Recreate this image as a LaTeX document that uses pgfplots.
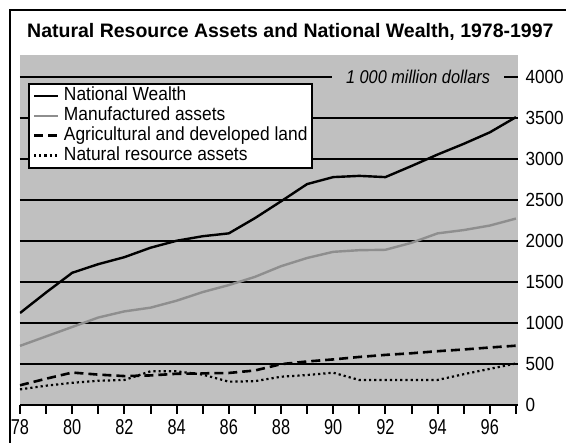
\documentclass[border=0pt]{standalone}
\usepackage{fontspec}
\setmainfont{Liberation Sans}
\newfontfamily\legfont{Liberation Sans}[FakeStretch=0.915]
\newfontfamily\yfont{Liberation Sans}[FakeStretch=0.9]
\newfontfamily\xfont{Liberation Sans}[FakeStretch=0.76]
\newfontfamily\unitfont{Liberation Sans}[FakeStretch=0.88]
\usepackage{pgfplots}
\pgfplotsset{compat=1.18}
\definecolor{bggray}{HTML}{C0C0C0}
\definecolor{mgray}{HTML}{8E8E8E}

\begin{document}
\begin{tikzpicture}[x=1pt,y=1pt]
\useasboundingbox (0,0) rectangle (566,443);
% outer frame (cut off at right and bottom)
\draw[line width=2.5pt] (10,-5) -- (10,433) -- (575,433);
\node[anchor=base west, inner sep=0pt, font=\bfseries\fontsize{19.5}{20}\selectfont]
  at (27,405.5) {Natural Resource Assets and National Wealth, 1978-1997};

\begin{axis}[
  at={(20pt,38pt)}, anchor=south west,
  scale only axis, width=498pt, height=350pt,
  xmin=78, xmax=97.08, ymin=0, ymax=4262,
  axis background/.style={fill=bggray},
  axis line style={draw=none},
  xtick={78,80,...,96}, minor xtick={79,81,...,97},
  xtick pos=bottom, tick align=outside,
  major tick length=9pt, minor tick length=9pt,
  xtick style={black, line width=2pt},
  ytick={0,500,...,4000},
  yticklabel pos=right,
  ytick style={draw=none},
  ymajorgrids, major grid style={black, line width=2pt},
  scaled y ticks=false,
  /pgf/number format/.cd, 1000 sep={}, assume math mode=true, /pgfplots/.cd,
  xticklabel style={font=\xfont\fontsize{21.5}{21.5}\selectfont, yshift=-2pt},
  yticklabel style={font=\yfont\fontsize{19}{19}\selectfont, xshift=-5pt},
  legend cell align=left,
  legend image code/.code={\draw[#1] (0pt,0pt) -- (24pt,0pt);},
  legend style={at={(0.016,0.92)}, anchor=north west, draw=black, line width=1.6pt,
    fill=white, font=\legfont\fontsize{19}{19}\selectfont,
    inner xsep=4pt, inner ysep=2.5pt, row sep=0pt, column sep=4pt,
    nodes={inner sep=0.6pt, text height=14pt, text depth=4.6pt}},
]
\addplot[black, line width=2.4pt, line join=round] coordinates {
  (78,1120) (79,1370) (80,1610) (81,1715) (82,1800) (83,1915) (84,2000)
  (85,2055) (86,2090) (87,2275) (88,2480) (89,2690) (90,2775) (91,2790)
  (92,2775) (93,2910) (94,3050) (95,3180) (96,3320) (97,3505)
};
\addlegendentry{National Wealth}
\addplot[mgray, line width=2.4pt, line join=round] coordinates {
  (78,720) (79,835) (80,950) (81,1065) (82,1140) (83,1185) (84,1270)
  (85,1375) (86,1460) (87,1560) (88,1690) (89,1790) (90,1865) (91,1885)
  (92,1890) (93,1975) (94,2090) (95,2130) (96,2185) (97,2270)
};
\addlegendentry{Manufactured assets}
\addplot[black, line width=2.6pt, dash pattern=on 9pt off 5pt] coordinates {
  (78,240) (79,320) (80,395) (81,370) (82,352) (83,360) (84,380)
  (85,385) (86,390) (87,420) (88,497) (89,530) (90,555) (91,585)
  (92,610) (93,630) (94,655) (95,676) (96,700) (97,722)
};
\addlegendentry{Agricultural and developed land}
\addplot[black, line width=2.2pt, dash pattern=on 2.2pt off 3pt] coordinates {
  (78,190) (79,235) (80,270) (81,295) (82,305) (83,410) (84,410)
  (85,370) (86,284) (87,290) (88,344) (89,365) (90,393) (91,304)
  (92,304) (93,304) (94,305) (95,375) (96,440) (97,505)
};
\addlegendentry{Natural resource assets}
\node[fill=bggray, inner xsep=14pt, inner ysep=2pt,
  font=\unitfont\itshape\fontsize{18.5}{18.5}\selectfont]
  at (axis cs:93.25,4000) {1 000 million dollars};
\end{axis}
\end{tikzpicture}
\end{document}
